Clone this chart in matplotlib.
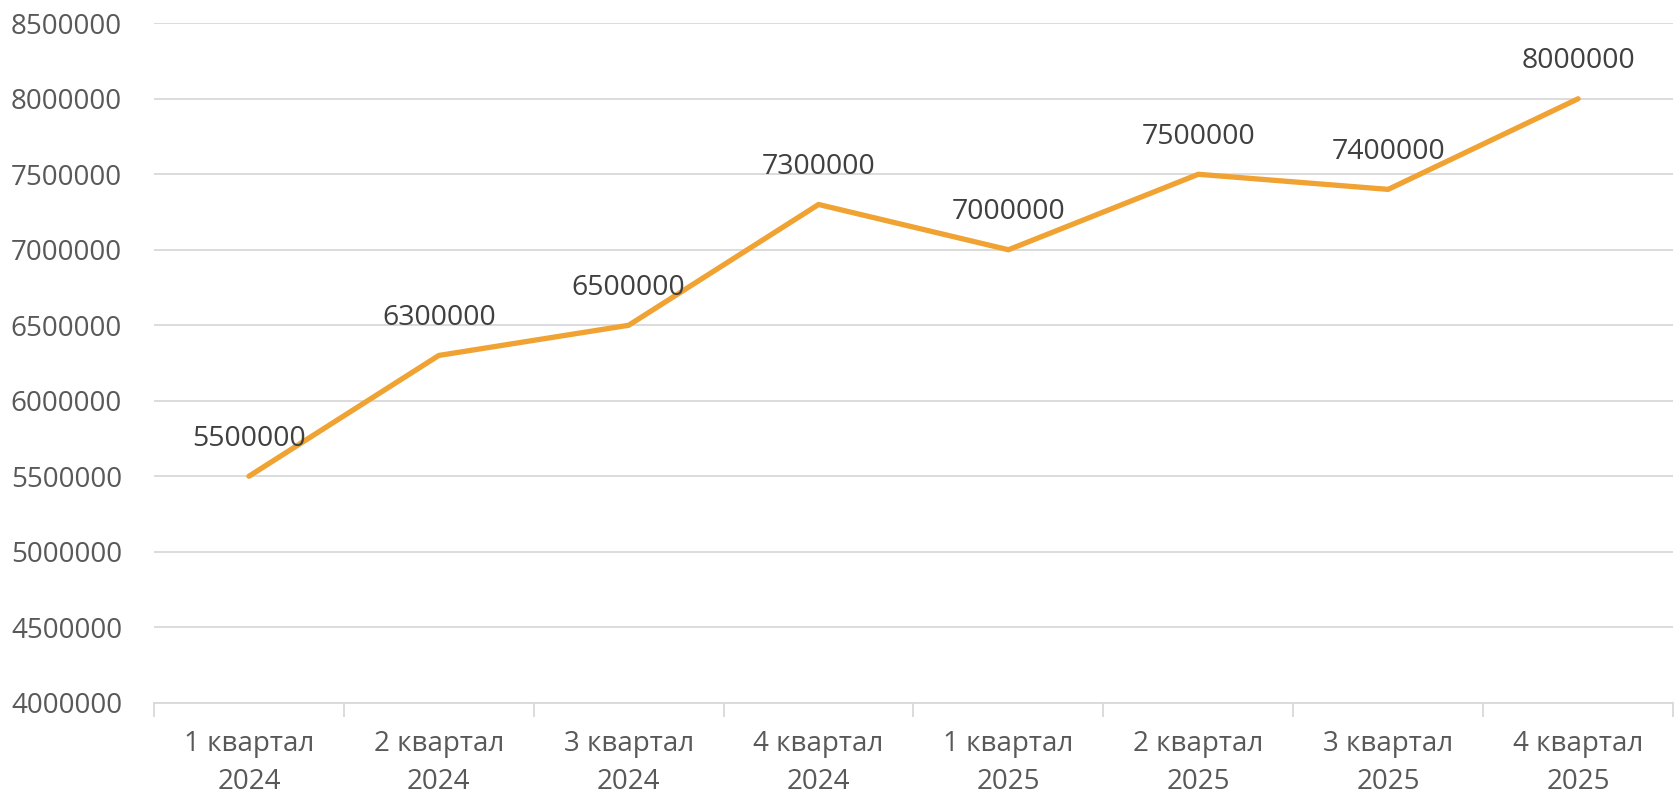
import matplotlib
matplotlib.use("Agg")
import matplotlib.pyplot as plt
from matplotlib.ticker import FixedLocator, NullFormatter

categories = ["1 квартал\n2024", "2 квартал\n2024", "3 квартал\n2024", "4 квартал\n2024",
              "1 квартал\n2025", "2 квартал\n2025", "3 квартал\n2025", "4 квартал\n2025"]
values = [5500000, 6300000, 6500000, 7300000, 7000000, 7500000, 7400000, 8000000]
yticks = [4000000, 4500000, 5000000, 5500000, 6000000, 6500000, 7000000, 7500000, 8000000, 8500000]

plt.rcParams['font.family'] = ['Open Sans', 'DejaVu Sans']

W, H = 1675, 796
fig = plt.figure(figsize=(W / 100, H / 100), dpi=100)
left, right, top, bottom = 154, 1673, 23.3, 702.7
ax = fig.add_axes([left / W, 1 - bottom / H, (right - left) / W, (bottom - top) / H])

x = list(range(len(values)))
ax.plot(x, values, color="#F0A232", linewidth=3.8, solid_capstyle="round", zorder=3)
for xi, v in zip(x, values):
    ax.annotate(str(v), (xi, v), xytext=(0, 27), textcoords="offset points",
                ha="center", va="center", fontsize=20.5, color="#404040", zorder=4)

ax.set_xlim(-0.5, len(values) - 0.5)
ax.set_ylim(yticks[0], yticks[-1])
ax.set_yticks(yticks)
ax.set_yticklabels([str(t) for t in yticks])
ax.grid(axis="y", color="#D9D9D9", linewidth=1.3, zorder=0)
ax.tick_params(axis="y", length=0, labelsize=20, labelcolor="#595959", pad=23)

ax.set_xticks(x)
ax.set_xticklabels(categories, linespacing=1.45)
ax.tick_params(axis="x", which="major", length=0, labelsize=20, labelcolor="#595959", pad=20)
ax.xaxis.set_minor_locator(FixedLocator([i - 0.5 for i in range(len(values) + 1)]))
ax.xaxis.set_minor_formatter(NullFormatter())
ax.tick_params(axis="x", which="minor", length=10, width=1.3, color="#D9D9D9")

for s in ["top", "right", "left"]:
    ax.spines[s].set_visible(False)
ax.spines["bottom"].set_color("#D9D9D9")
ax.spines["bottom"].set_linewidth(1.3)

fig.savefig("out.png", dpi=100)
